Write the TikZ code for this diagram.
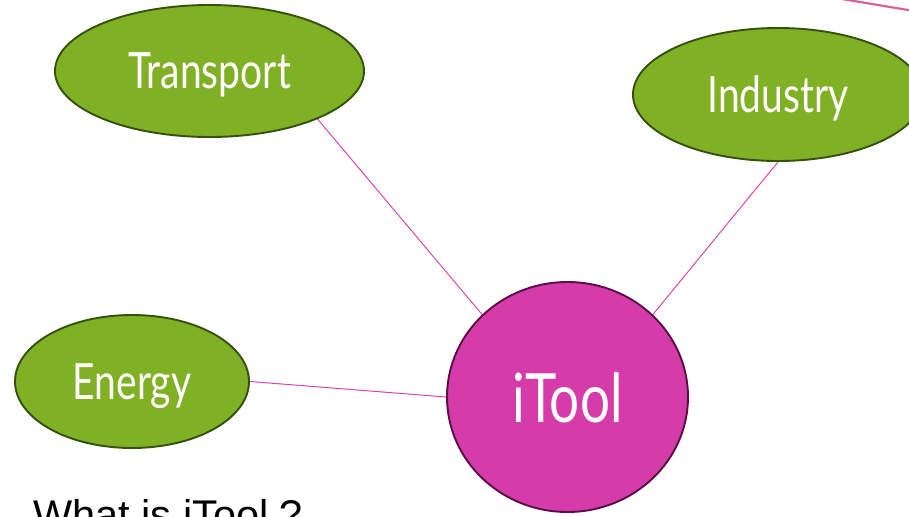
\documentclass[tikz,border=0pt]{standalone}
\usepackage{fontspec}
\usetikzlibrary{shapes.geometric,backgrounds}
\setmainfont{Liberation Sans}
\newfontfamily\labfont[FakeStretch=0.78]{Lato}
\definecolor{leaf}{HTML}{80B024}
\definecolor{leafedge}{HTML}{36500F}
\definecolor{hub}{HTML}{D63BAA}
\definecolor{hubedge}{HTML}{5A0E46}
\definecolor{wire}{HTML}{DA45B6}
\definecolor{arc}{HTML}{D6609C}
\tikzset{
  topic/.style={ellipse, draw=leafedge, fill=leaf, line width=1.9pt, inner sep=0pt,
    text=white, text depth=0pt, text height=36pt, font=\labfont\fontsize{50}{56}\selectfont},
  core/.style={ellipse, draw=hubedge, fill=hub, line width=1.9pt, inner sep=0pt,
    text=white, text depth=0pt, text height=50pt, font=\labfont\fontsize{68}{76}\selectfont},
  link/.style={draw=wire, line width=1pt},
}
\begin{document}
\begin{tikzpicture}[x=1pt, y=-1pt]
\useasboundingbox (0,0) rectangle (909,516);
% hub and its three topics
\node[core, minimum width=241pt, minimum height=230pt] (itool) at (567.5,397) {iTool};
\node[topic, minimum width=309pt, minimum height=132pt] (transport) at (209.5,71) {Transport};
\node[topic, minimum width=290pt, minimum height=133pt] (industry) at (778,94.5) {Industry};
\node[topic, minimum width=234pt, minimum height=133pt] (energy) at (132,381.5) {Energy};
% connectors behind the shapes
\begin{pgfonlayer}{background}
\draw[link] (transport.-24) -- (itool.136);
\draw[link] (industry.south) -- (itool.44);
\draw[link] (energy.east) -- (itool.west);
\end{pgfonlayer}
% edge of a curve entering from the top right
\coordinate (arcA) at (842,-1);
\coordinate (arcB) at (911,10.5);
\draw[draw=arc, line width=2.2pt] (arcA) -- (arcB);
% caption, cut off by the lower edge
\node[anchor=base west, inner sep=0pt, font=\fontsize{41.5}{46}\selectfont] (caption) at (33,529) {What is iTool ?};
\end{tikzpicture}
\end{document}
